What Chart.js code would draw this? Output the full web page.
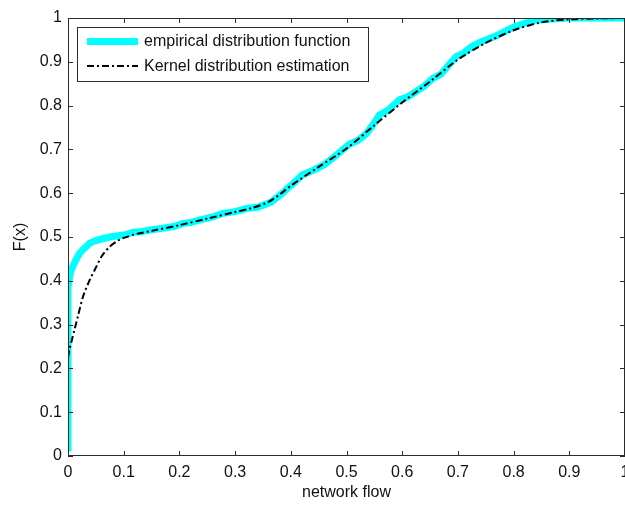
<!DOCTYPE html>
<html>
<head>
<meta charset="utf-8">
<script src="https://cdn.jsdelivr.net/npm/chart.js@4.4.0/dist/chart.umd.min.js"></script>
<style>
  body { margin: 0; background: #fff; }
  #wrap { width: 625px; height: 505px; }
</style>
</head>
<body>
<div id="wrap"><canvas id="myChart" width="625" height="505"></canvas></div>
<script>
// values
const seriesLabels = ['empirical distribution function', 'Kernel distribution estimation'];

const empiricalX = [0, 0, 0.003, 0.006, 0.01, 0.015, 0.021, 0.03, 0.039, 0.05, 0.062, 0.075, 0.09, 0.105, 0.117, 0.13,
  0.147, 0.17, 0.19, 0.206, 0.22, 0.237, 0.26, 0.278, 0.3, 0.32, 0.34, 0.355, 0.365, 0.375, 0.385, 0.395, 0.405,
  0.421, 0.44, 0.46, 0.48, 0.505, 0.52, 0.535, 0.545, 0.559, 0.575, 0.595, 0.61, 0.625, 0.64, 0.655, 0.67, 0.685,
  0.697, 0.71, 0.725, 0.74, 0.755, 0.77, 0.785, 0.797, 0.81, 0.825, 0.84, 0.86, 0.876, 0.9, 0.95, 1.0];
const empiricalY = [0.01, 0.386, 0.41, 0.425, 0.437, 0.45, 0.463, 0.475, 0.486, 0.492, 0.496, 0.5, 0.503, 0.506, 0.511, 0.512,
  0.516, 0.52, 0.524, 0.531, 0.533, 0.539, 0.546, 0.554, 0.558, 0.565, 0.568, 0.575, 0.58, 0.59, 0.6, 0.612, 0.623,
  0.642, 0.652, 0.665, 0.685, 0.712, 0.72, 0.735, 0.752, 0.778, 0.79, 0.813, 0.82, 0.832, 0.845, 0.862, 0.872, 0.895,
  0.912, 0.92, 0.935, 0.945, 0.952, 0.96, 0.97, 0.977, 0.984, 0.99, 0.995, 0.997, 0.998, 1.0, 1.0, 1.0];

const kernelX = [0, 0.003, 0.007, 0.012, 0.018, 0.027, 0.039, 0.05, 0.06, 0.075, 0.09, 0.1, 0.123, 0.15, 0.2, 0.25,
  0.3, 0.33, 0.36, 0.38, 0.4, 0.45, 0.5, 0.55, 0.6, 0.65, 0.7, 0.75, 0.8, 0.85, 0.9, 0.95, 1.0];
const kernelY = [0.225, 0.245, 0.265, 0.29, 0.32, 0.364, 0.402, 0.43, 0.455, 0.478, 0.492, 0.498, 0.507, 0.514, 0.527, 0.542,
  0.557, 0.566, 0.58, 0.597, 0.617, 0.66, 0.702, 0.755, 0.807, 0.855, 0.905, 0.943, 0.972, 0.99, 0.997, 0.999, 1.0];

const xTicks = [0, 0.1, 0.2, 0.3, 0.4, 0.5, 0.6, 0.7, 0.8, 0.9, 1];
const xTickLabels = ['0', '0.1', '0.2', '0.3', '0.4', '0.5', '0.6', '0.7', '0.8', '0.9', '1'];
const yTicks = [0, 0.1, 0.2, 0.3, 0.4, 0.5, 0.6, 0.7, 0.8, 0.9, 1];
const yTickLabels = ['0', '0.1', '0.2', '0.3', '0.4', '0.5', '0.6', '0.7', '0.8', '0.9', '1'];

const FONT = 'Liberation Sans, Arial, sans-serif';
const TEXT = '#111';
const AXIS = '#2b2b2b';
const KERNEL_DASH = [7, 3, 2, 3];

const toPoints = (xs, ys) => xs.map((x, i) => ({ x: x, y: ys[i] }));

// matlab style box with inward ticks on all four sides
const boxPlugin = {
  id: 'box',
  afterDatasetsDraw(chart) {
    const { ctx, chartArea: a, scales } = chart;
    ctx.save();
    ctx.strokeStyle = AXIS;
    ctx.lineWidth = 1;
    ctx.strokeRect(Math.round(a.left) + 0.5, Math.round(a.top) + 0.5,
      Math.round(a.right - a.left) - 1, Math.round(a.bottom - a.top) - 1);
    ctx.beginPath();
    xTicks.forEach(v => {
      const px = Math.round(scales.x.getPixelForValue(v)) + 0.5;
      ctx.moveTo(px, a.bottom); ctx.lineTo(px, a.bottom - 5);
      ctx.moveTo(px, a.top); ctx.lineTo(px, a.top + 5);
    });
    yTicks.forEach(v => {
      const py = Math.round(scales.y.getPixelForValue(v)) + 0.5;
      ctx.moveTo(a.left, py); ctx.lineTo(a.left + 5, py);
      ctx.moveTo(a.right, py); ctx.lineTo(a.right - 5, py);
    });
    ctx.stroke();
    ctx.restore();
  }
};

// legend drawn inside the axes, top left
const legendPlugin = {
  id: 'boxLegend',
  afterDraw(chart) {
    const ctx = chart.ctx;
    const x0 = 77.5, y0 = 27.5, w = 291, h = 54;
    ctx.save();
    ctx.fillStyle = '#fff';
    ctx.fillRect(x0, y0, w, h);
    ctx.strokeStyle = AXIS;
    ctx.lineWidth = 1;
    ctx.strokeRect(x0, y0, w, h);

    ctx.lineCap = 'butt';
    ctx.strokeStyle = '#00ffff';
    ctx.lineWidth = 7;
    ctx.beginPath(); ctx.moveTo(87, 41.5); ctx.lineTo(138, 41.5); ctx.stroke();

    ctx.strokeStyle = '#000';
    ctx.lineWidth = 2;
    ctx.setLineDash(KERNEL_DASH);
    ctx.beginPath(); ctx.moveTo(87, 66); ctx.lineTo(138, 66); ctx.stroke();
    ctx.setLineDash([]);

    ctx.fillStyle = TEXT;
    ctx.font = '16px ' + FONT;
    ctx.textBaseline = 'middle';
    ctx.fillText(seriesLabels[0], 144, 42);
    ctx.fillText(seriesLabels[1], 144, 67);
    ctx.restore();
  }
};

const ctx = document.getElementById('myChart').getContext('2d');
const myChart = new Chart(ctx, {
  type: 'scatter',
  data: {
    datasets: [
      {
        label: seriesLabels[0],
        data: toPoints(empiricalX, empiricalY),
        showLine: true,
        borderColor: '#00ffff',
        backgroundColor: '#00ffff',
        borderWidth: 7,
        pointRadius: 0,
        tension: 0,
        clip: 0,
        order: 2
      },
      {
        label: seriesLabels[1],
        data: toPoints(kernelX, kernelY),
        showLine: true,
        borderColor: '#000',
        backgroundColor: '#000',
        borderWidth: 2,
        borderDash: KERNEL_DASH,
        pointRadius: 0,
        tension: 0.3,
        clip: 0,
        order: 1
      }
    ]
  },
  options: {
    responsive: false,
    animation: false,
    layout: { padding: { top: 18, right: -1, left: 0, bottom: 0 } },
    plugins: {
      legend: { display: false },
      tooltip: { enabled: false }
    },
    scales: {
      x: {
        type: 'linear',
        min: 0,
        max: 1,
        afterBuildTicks: s => { s.ticks = xTicks.map(v => ({ value: v })); },
        afterFit: s => { s.height = 49; s.paddingLeft = 0; s.paddingRight = 0; },
        grid: { display: false, drawTicks: false },
        border: { display: false },
        ticks: {
          autoSkip: false,
          maxRotation: 0,
          padding: 7,
          color: TEXT,
          font: { family: FONT, size: 16 },
          callback: (v, i) => xTickLabels[i]
        },
        title: {
          display: true,
          text: 'network flow',
          color: TEXT,
          font: { family: FONT, size: 16 },
          padding: { top: 0, bottom: 3 }
        }
      },
      y: {
        type: 'linear',
        min: 0,
        max: 1,
        afterBuildTicks: s => { s.ticks = yTicks.map(v => ({ value: v })); },
        afterFit: s => { s.width = 68; s.paddingTop = 0; s.paddingBottom = 0; },
        grid: { display: false, drawTicks: false },
        border: { display: false },
        ticks: {
          autoSkip: false,
          padding: 6,
          color: TEXT,
          font: { family: FONT, size: 16 },
          callback: (v, i) => yTickLabels[i]
        },
        title: {
          display: true,
          text: 'F(x)',
          color: TEXT,
          font: { family: FONT, size: 16 },
          padding: { top: 11, bottom: 0 }
        }
      }
    }
  },
  plugins: [boxPlugin, legendPlugin]
});
</script>
</body>
</html>
